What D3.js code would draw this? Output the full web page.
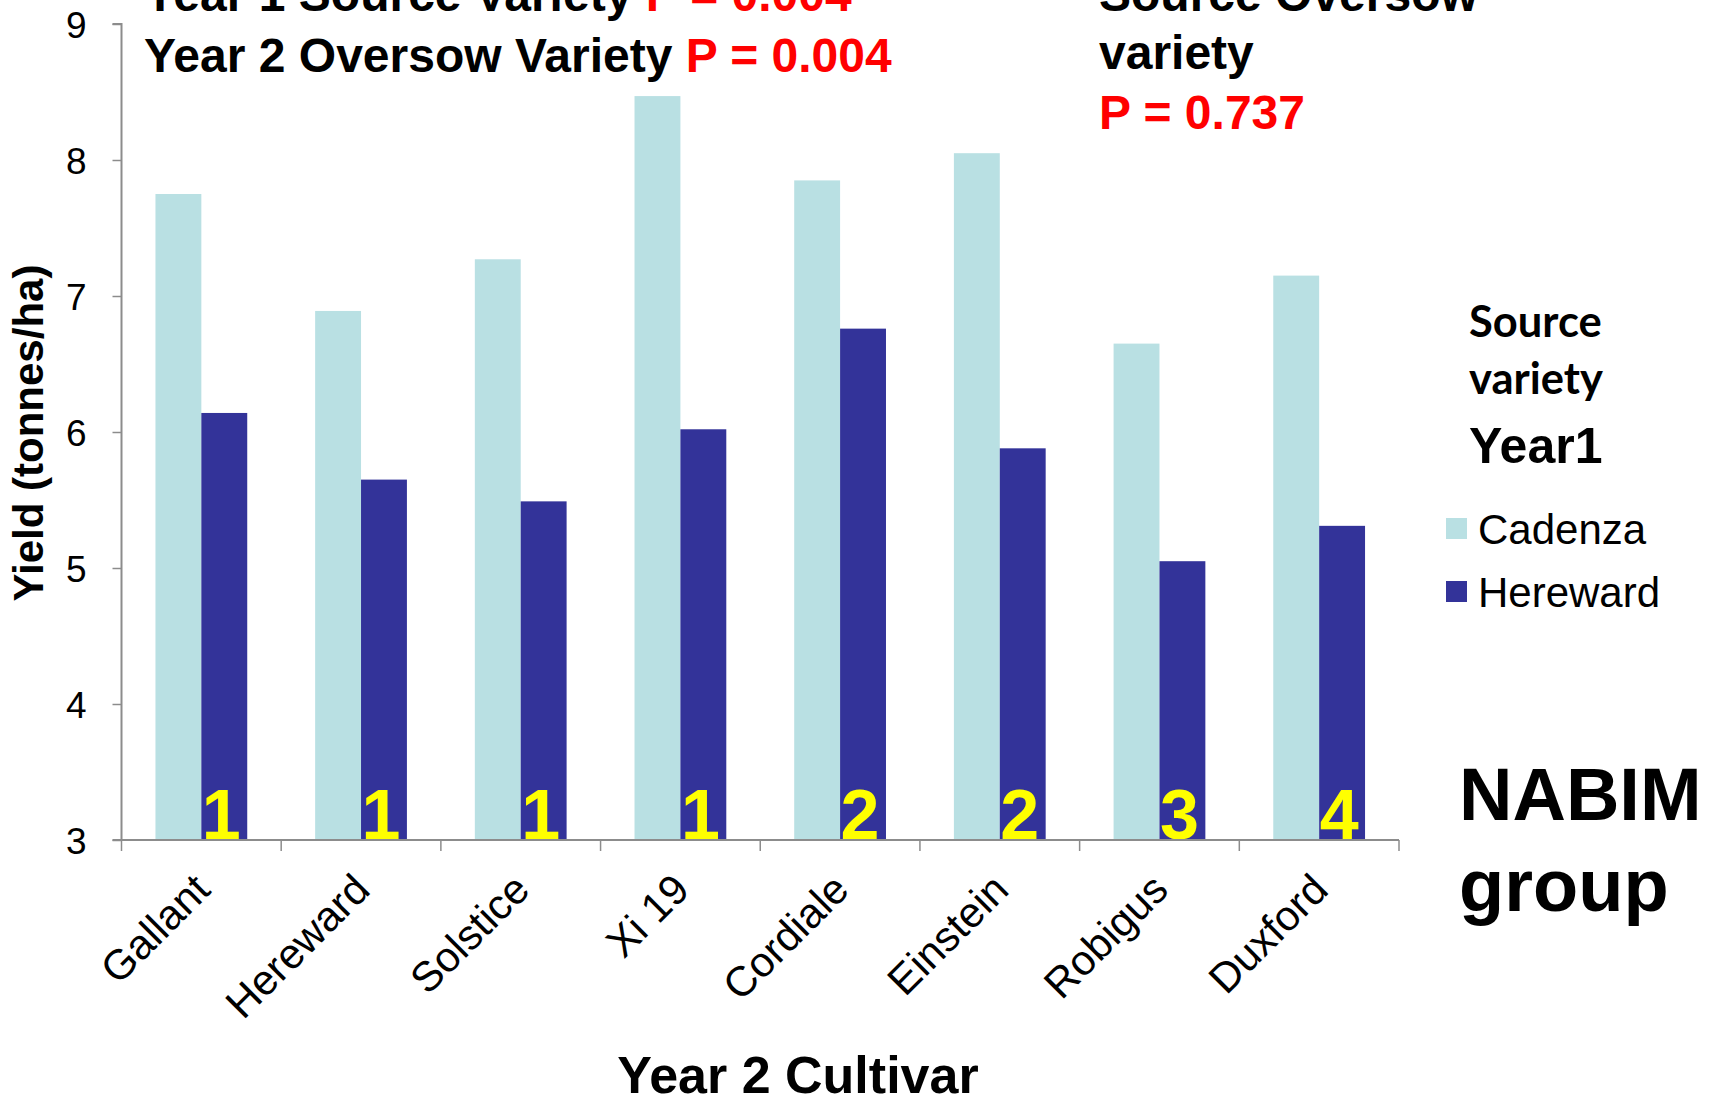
<!DOCTYPE html>
<html>
<head>
<meta charset="utf-8">
<script src="https://cdn.jsdelivr.net/npm/d3@7"></script>
<style>
  html, body { margin: 0; padding: 0; background: #fff; }
  svg { display: block; }
</style>
</head>
<body>
<svg id="chart" width="1715" height="1104"></svg>
<script>
// ---- data ----
const categories = ["Gallant", "Hereward", "Solstice", "Xi 19", "Cordiale", "Einstein", "Robigus", "Duxford"];
const seriesNames = ["Cadenza", "Hereward"];
const cadenzaValues = [7.75, 6.89, 7.27, 8.47, 7.85, 8.05, 6.65, 7.15];
const herewardValues = [6.14, 5.65, 5.49, 6.02, 6.76, 5.88, 5.05, 5.31];
const nabimGroups = ["1", "1", "1", "1", "2", "2", "3", "4"];
const yTicks = [3, 4, 5, 6, 7, 8, 9];

// ---- layout ----
const svg = d3.select("#chart");
const plot = { left: 121.5, right: 1399, top: 24, bottom: 840 };
const colors = { Cadenza: "#B9E0E3", Hereward: "#333399" };
const axisColor = "#8C8C8C";
const arial = "'Liberation Sans', Arial, sans-serif";

const x = d3.scaleBand().domain(categories).range([plot.left, plot.right]).padding(0);
const x1 = d3.scaleBand().domain(seriesNames).range([0, x.bandwidth()]).paddingInner(0).paddingOuter(0.74);
const y = d3.scaleLinear().domain([3, 9]).range([plot.bottom, plot.top]);

const rows = categories.map((c, i) => ({ cat: c, Cadenza: cadenzaValues[i], Hereward: herewardValues[i], group: nabimGroups[i] }));

// ---- bars ----
const g = svg.append("g");
const groups = g.selectAll("g.cat").data(rows).join("g")
  .attr("transform", d => `translate(${x(d.cat)},0)`);
groups.selectAll("rect").data(d => seriesNames.map(s => ({ s, v: d[s] }))).join("rect")
  .attr("x", d => x1(d.s))
  .attr("width", x1.bandwidth())
  .attr("y", d => y(d.v))
  .attr("height", d => y(3) - y(d.v))
  .attr("fill", d => colors[d.s]);

// NABIM group numbers on Hereward bars
groups.append("text")
  .attr("x", x1("Hereward") + x1.bandwidth() / 2 - 3)
  .attr("y", y(3) - 1)
  .attr("text-anchor", "middle")
  .attr("font-family", arial)
  .attr("font-weight", "bold")
  .attr("font-size", 70)
  .attr("fill", "#FFFF00")
  .text(d => d.group);

// ---- y axis ----
const yAxis = d3.axisLeft(y).tickValues(yTicks).tickSize(9).tickPadding(26).tickFormat(d3.format("d"));
const yg = svg.append("g").attr("transform", `translate(${plot.left},0)`).call(yAxis);
yg.select(".domain").attr("stroke", axisColor).attr("stroke-width", 2).attr("d", `M-9,${plot.top}H0V${plot.bottom}`);
yg.selectAll(".tick line").attr("stroke", axisColor).attr("stroke-width", 1.5);
yg.selectAll(".tick text").attr("font-family", arial).attr("font-size", 37).attr("fill", "#000").attr("dy", "0.36em");

// ---- x axis ----
const xAxisG = svg.append("g").attr("transform", `translate(0,${plot.bottom})`);
xAxisG.append("line").attr("x1", plot.left - 9).attr("x2", plot.right).attr("y1", 0).attr("y2", 0)
  .attr("stroke", axisColor).attr("stroke-width", 2);
const boundaries = categories.map(c => x(c)).concat([x.range()[1]]);
xAxisG.selectAll("line.tk").data(boundaries).join("line").attr("class", "tk")
  .attr("x1", d => d).attr("x2", d => d).attr("y1", 0).attr("y2", 11)
  .attr("stroke", axisColor).attr("stroke-width", 1.5);
xAxisG.selectAll("text.cat").data(categories).join("text").attr("class", "cat")
  .attr("transform", d => `translate(${x(d) + x.bandwidth() / 2 + 11},${52}) rotate(-45)`)
  .attr("text-anchor", "end")
  .attr("font-family", arial)
  .attr("font-size", 42)
  .attr("fill", "#000")
  .text(d => d);

// axis titles
svg.append("text")
  .attr("x", 798).attr("y", 1093)
  .attr("text-anchor", "middle")
  .attr("font-family", arial).attr("font-weight", "bold").attr("font-size", 52)
  .text("Year 2 Cultivar");

svg.append("text")
  .attr("transform", `translate(43,433) rotate(-90)`)
  .attr("text-anchor", "middle")
  .attr("font-family", arial).attr("font-weight", "bold").attr("font-size", 42)
  .text("Yield (tonnes/ha)");

// ---- top annotations ----
function richLine(xp, yp, parts, size) {
  const t = svg.append("text").attr("x", xp).attr("y", yp)
    .attr("font-family", arial).attr("font-weight", "bold").attr("font-size", size);
  parts.forEach(p => t.append("tspan").attr("fill", p[1]).text(p[0]));
  return t;
}
richLine(144, 11, [["Year 1 Source Variety ", "#000"], ["P = 0.004", "#FF0000"]], 48);
richLine(144, 72, [["Year 2 Oversow Variety ", "#000"], ["P = 0.004", "#FF0000"]], 48);
richLine(1099, 11, [["Source Oversow", "#000"]], 48);
richLine(1099, 69, [["variety", "#000"]], 48);
richLine(1099, 129, [["P = 0.737", "#FF0000"]], 48);

// ---- legend ----
const legX = 1469;
svg.append("text").attr("x", legX).attr("y", 337)
  .attr("font-family", "Lato, 'Open Sans', sans-serif").attr("font-weight", "bold").attr("font-size", 43.5)
  .text("Source");
svg.append("text").attr("x", legX).attr("y", 394)
  .attr("font-family", "Lato, 'Open Sans', sans-serif").attr("font-weight", "bold").attr("font-size", 43.5)
  .text("variety");
svg.append("text").attr("x", legX).attr("y", 463)
  .attr("font-family", arial).attr("font-weight", "bold").attr("font-size", 50)
  .text("Year1");

const legItems = svg.selectAll("g.leg").data(seriesNames).join("g").attr("class", "leg")
  .attr("transform", (d, i) => `translate(1446,${518 + i * 63})`);
legItems.append("rect").attr("width", 21).attr("height", 21).attr("fill", d => colors[d]);
legItems.append("text").attr("x", 32).attr("y", 26)
  .attr("font-family", arial).attr("font-size", 42).text(d => d);

// ---- NABIM group ----
svg.append("text").attr("x", 1459).attr("y", 820)
  .attr("font-family", arial).attr("font-weight", "bold").attr("font-size", 74).text("NABIM");
svg.append("text").attr("x", 1459).attr("y", 911)
  .attr("font-family", arial).attr("font-weight", "bold").attr("font-size", 74).text("group");
</script>
</body>
</html>
